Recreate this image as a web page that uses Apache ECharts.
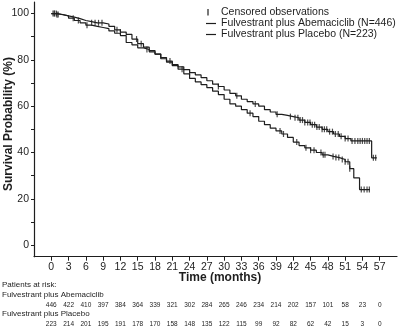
<!DOCTYPE html>
<html>
<head>
<meta charset="utf-8">
<script src="https://cdn.jsdelivr.net/npm/echarts@6/dist/echarts.min.js"></script>
<style>html,body{margin:0;padding:0;background:#fff}#c{width:400px;height:331px}</style>
</head>
<body>
<div id="c"></div>
<script>
// Kaplan-Meier curves (months, survival %)
var abemaTimes = [0,1,2,3,4,5,6,7,8,9,10,11,12,13,14,15,16,17,18,19,20,21,22,23,24,25,26,27,28,29,30,31,32,33,34,35,36,37,38,39,40,41,42,43,44,45,46,47,48,49,50,51,52,55.6,56.5];
var abemaSurv  = [100,99.6,99,98,97,96,95,94.5,94,93.5,92.5,91.5,90.5,87.5,86.5,85.2,84.5,83.5,82.5,81,79.5,78,77,75.8,74.5,73.5,72.3,71,69.5,68.5,67,65.5,64.5,63,62,61,60,58.5,57.5,56.5,56,55.5,55,54,53,52,51,50,49,48,47,46,45,37.7,37.7];
var placTimes  = [0,1,2,3,4,5,6,7,8,9,10,11,12,13,14,15,16,17,18,19,20,21,22,23,24,25,26,27,28,29,30,31,32,33,34,35,36,37,38,39,40,41,42,43,44,45,46,47,48,49,50,51,51.8,52.5,53.5,55.3];
var placSurv   = [100,99.5,99,98.5,97.8,97,96.5,96,96,95.5,94.5,93,92,91,89,87,85.5,84,82.5,80.5,79,77.5,76,74,72,70.5,69.3,68,66.5,65,63,61,60,58.5,57,55.5,53.5,52,50.5,49.3,48,46.5,44.5,43,42,41,40,39,38.3,37.8,37,36,33,29,24,24];
var abemaCensor = [0.3,0.6,0.9,1.2,3.8,4.7,6.2,16.6,20.6,24,29,32.2,35.4,39.2,41.5,42.3,42.8,43.2,43.6,44,44.5,44.9,45.3,45.7,46.1,46.5,47,47.4,47.8,48.3,48.8,49.3,49.8,50.3,51,51.5,52.2,52.7,53.2,53.6,54,54.4,54.8,55.2,55.9,56.3];
var placCensor  = [0.5,1,7,7.6,8.2,8.8,11.4,12,14.8,15.6,22.7,34.5,39.7,40.3,42.6,44.2,45,45.6,46.8,47.2,47.5,48.9,49.4,49.9,50.5,51,51.5,51.8,53.8,54.3,54.8,55.2];
// axes
var xTicks = [0,3,6,9,12,15,18,21,24,27,30,33,36,39,42,45,48,51,54,57];
var yTicks = [0,10,20,30,40,50,60,70,80,90,100];
var yLabels = [0,20,40,60,80,100];
// patients at risk
var riskAbema = [446,422,410,397,384,364,339,321,302,284,265,246,234,214,202,157,101,58,23,0];
var riskPlac  = [223,214,201,195,191,178,170,158,148,135,122,115,99,92,82,62,42,15,3,0];
var legendLabels = ['Censored observations','Fulvestrant plus Abemaciclib (N=446)','Fulvestrant plus Placebo (N=223)'];

function pairs(t, s){ return t.map(function(v,i){return [v, s[i]];}); }
function survAt(t, times, surv){ var v = surv[0]; for (var i=0;i<times.length;i++){ if (times[i] <= t) v = surv[i]; } return v; }
function censorPts(c, times, surv){ return c.map(function(t){ return [t, survAt(t, times, surv)]; }); }

var FONT = 'Liberation Sans, Arial, sans-serif';
var INK = '#1e1e1e';
var chart = echarts.init(document.getElementById('c'), null, {renderer:'canvas'});

function riskAxis(vals, offset){
  return {
    type:'value', min:-3, max:60, position:'bottom', offset:offset, gridIndex:0,
    axisLine:{show:false}, axisTick:{show:false}, splitLine:{show:false},
    axisLabel:{customValues:xTicks, margin:0, fontSize:6.5, color:INK, fontFamily:FONT,
      formatter:function(v){ var i = xTicks.indexOf(Math.round(v)); return i>=0 ? String(vals[i]) : ''; }}
  };
}

chart.setOption({
  animation:false,
  grid:{left:34, right:3, top:2, bottom:74.3},
  xAxis:[{
    type:'value', min:-3, max:60,
    axisLine:{onZero:false, lineStyle:{color:INK, width:1.2}},
    axisTick:{customValues:xTicks, length:4, lineStyle:{color:INK}},
    axisLabel:{customValues:xTicks, margin:5, fontSize:10.5, color:INK, fontFamily:FONT},
    splitLine:{show:false}
  }, riskAxis(riskAbema, 45), riskAxis(riskPlac, 64)],
  yAxis:{
    type:'value', min:-5, max:105,
    axisLine:{show:true, onZero:false, lineStyle:{color:INK, width:1.2}},
    axisTick:{show:true, customValues:yTicks, length:3, lineStyle:{color:INK}},
    axisLabel:{customValues:yLabels, margin:5, fontSize:10.5, color:INK, fontFamily:FONT},
    splitLine:{show:false}
  },
  series:[
    {type:'line', step:'end', data:pairs(abemaTimes, abemaSurv), showSymbol:false, lineStyle:{color:INK, width:1.2}},
    {type:'line', step:'end', data:pairs(placTimes, placSurv), showSymbol:false, lineStyle:{color:INK, width:1.2}},
    {type:'scatter', data:censorPts(abemaCensor, abemaTimes, abemaSurv), symbol:'rect', symbolSize:[1.2,6], itemStyle:{color:INK}},
    {type:'scatter', data:censorPts(placCensor, placTimes, placSurv), symbol:'rect', symbolSize:[1.2,6], itemStyle:{color:INK}}
  ],
  graphic:[
    {type:'text', x:9, y:124, rotation:Math.PI/2, style:{text:'Survival Probability (%)', font:'bold 12px '+FONT, fill:INK, align:'center', verticalAlign:'middle'}},
    {type:'text', x:220, y:278, style:{text:'Time (months)', font:'bold 12px '+FONT, fill:INK, align:'center', verticalAlign:'middle'}},
    {type:'line', shape:{x1:208, y1:9, x2:208, y2:15.5}, style:{stroke:INK, lineWidth:1.2}},
    {type:'line', shape:{x1:206, y1:23.5, x2:216, y2:23.5}, style:{stroke:INK, lineWidth:1.2}},
    {type:'line', shape:{x1:206, y1:34.5, x2:216, y2:34.5}, style:{stroke:INK, lineWidth:1.2}},
    {type:'text', x:221, y:12, style:{text:legendLabels[0], font:'10.5px '+FONT, fill:INK, verticalAlign:'middle'}},
    {type:'text', x:221, y:23.5, style:{text:legendLabels[1], font:'10.5px '+FONT, fill:INK, verticalAlign:'middle'}},
    {type:'text', x:221, y:34.5, style:{text:legendLabels[2], font:'10.5px '+FONT, fill:INK, verticalAlign:'middle'}},
    {type:'text', x:2, y:285, style:{text:'Patients at risk:', font:'8px '+FONT, fill:INK, verticalAlign:'middle'}},
    {type:'text', x:2, y:295, style:{text:'Fulvestrant plus Abemaciclib', font:'8px '+FONT, fill:INK, verticalAlign:'middle'}},
    {type:'text', x:2, y:313.5, style:{text:'Fulvestrant plus Placebo', font:'8px '+FONT, fill:INK, verticalAlign:'middle'}}
  ]
});
</script>
</body>
</html>
